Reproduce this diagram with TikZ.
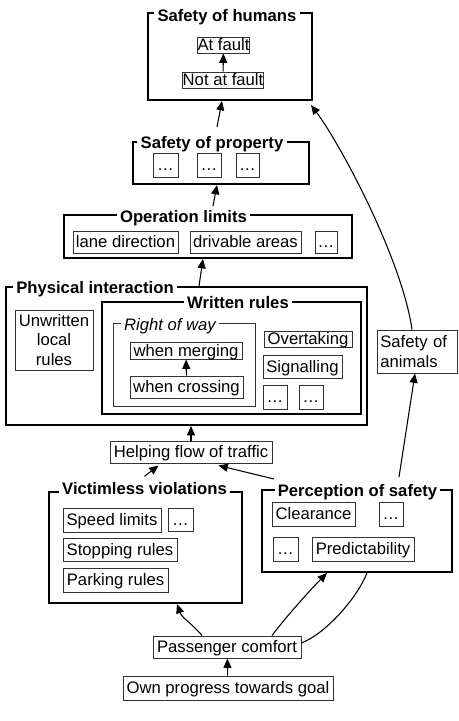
\documentclass[tikz,border=0pt]{standalone}
\usepackage{fontspec}
\setmainfont{Liberation Sans}
\usetikzlibrary{arrows.meta, positioning, calc}

\begin{document}
\begin{tikzpicture}[
  % one unit is one pixel of the sketch, y runs downwards
  x=0.75pt, y=-0.75pt, font=\fontsize{12.5}{14.5}\selectfont,
  sz/.style 2 args={minimum width=#1*0.75pt, minimum height=#2*0.75pt},
  bx/.style={draw=black!80, line width=0.75pt, inner sep=0pt, align=center},
  lbl/.style={bx, text height=9.5pt, text depth=1pt},
  frm/.style={draw, line width=1.5pt, inner sep=0pt},
  sub/.style={draw=black!80, line width=0.75pt, inner sep=0pt},
  ttl/.style={fill=white, anchor=base, inner xsep=2.5pt, inner ysep=1pt, font=\fontsize{12.5}{14.5}\selectfont\bfseries},
  ar/.style={-{Triangle[length=7pt, width=6pt]}, line width=0.8pt},
  ln/.style={line width=0.8pt},
]
\useasboundingbox (0,0) rectangle (459,721);
% safety of humans
\node[frm, sz={164}{87}] (hum) at (230,56.5) {};
\node[ttl] (humt) at (227,21.5) {Safety of humans};
\node[lbl, sz={52}{16}] (atf) at (223.5,45) {At fault};
\node[lbl, sz={79}{16}] (natf) at (223,80) {Not at fault};
\draw[ar] (natf) -- (atf);
% safety of property
\node[frm, sz={176}{42}] (prop) at (221,163) {};
\node[ttl] (propt) at (212,148) {Safety of property};
\node[lbl, sz={25}{24}] (prop1) at (165.5,165) {\dots};
\node[lbl, sz={24}{24}] (prop2) at (209,165) {\dots};
\node[lbl, sz={23}{24}] (prop3) at (247.5,165) {\dots};
% operation limits
\node[frm, sz={288}{43}] (oper) at (208,236.5) {};
\node[ttl] (opert) at (183.5,222) {Operation limits};
\node[lbl, sz={105}{22}] (lane) at (125.5,242) {lane direction};
\node[lbl, sz={111}{22}] (driv) at (245.5,242) {drivable areas};
\node[lbl, sz={22}{22}] (oper3) at (326,242) {\dots};
% physical interaction
\node[frm, sz={361}{138}] (phys) at (186.5,356) {};
\node[ttl] (physt) at (95,293) {Physical interaction};
\node[bx, sz={78}{60}] (unwr) at (54,340) {Unwritten\\local\\rules};
\node[frm, sz={259}{112}] (writ) at (231.5,358) {};
\node[ttl] (writt) at (238,308) {Written rules};
\node[sub, sz={142}{83}] (row) at (184,364.5) {};
\node[ttl, font=\fontsize{12.5}{14.5}\selectfont\itshape] (rowt) at (170,330) {Right of way};
\node[lbl, sz={112}{17}] (merg) at (186,350.5) {when merging};
\node[lbl, sz={113}{22}] (cros) at (186.5,387) {when crossing};
\draw[ar] (cros) -- (merg);
\node[lbl, sz={88}{16}] (overt) at (308,339) {Overtaking};
\node[lbl, sz={79}{23}] (sign) at (302.5,366.5) {Signalling};
\node[lbl, sz={24}{24}] (writ1) at (275,397) {\dots};
\node[lbl, sz={24}{24}] (writ2) at (311,397) {\dots};
% safety of animals
\node[bx, align=left, text width=55pt, inner xsep=2.5pt, sz={80}{43}] (anim) at (417,351.5) {Safety of\\animals};
% helping flow of traffic
\node[lbl, sz={162}{22}] (help) at (191,452) {Helping flow of traffic};
% victimless violations
\node[frm, sz={193}{111}] (vict) at (145.5,547.5) {};
\node[ttl] (victt) at (144.5,494) {Victimless violations};
\node[lbl, sz={98}{24}] (speed) at (112,520) {Speed limits};
\node[lbl, sz={25}{23}] (vict2) at (180.5,519.5) {\dots};
\node[lbl, sz={114}{23}] (stop) at (120,549.5) {Stopping rules};
\node[lbl, sz={105}{24}] (park) at (115.5,580) {Parking rules};
% perception of safety
\node[frm, sz={190}{82}] (perc) at (357,531) {};
\node[ttl] (perct) at (357.5,496) {Perception of safety};
\node[lbl, sz={83}{24}] (clear) at (313.5,514) {Clearance};
\node[lbl, sz={24}{24}] (perc2) at (391,514) {\dots};
\node[lbl, sz={25}{24}] (perc3) at (285.5,549) {\dots};
\node[lbl, sz={102}{24}] (pred) at (363,549) {Predictability};
% comfort and progress
\node[lbl, sz={148}{22}] (pass) at (227,647) {Passenger comfort};
\node[lbl, sz={210}{24}] (own) at (228,688) {Own progress towards goal};
\draw[ar] (own) -- (pass);
% links between the levels
\draw[ar] ($(prop.north)+(-4,-14)$) -- ($(hum.south)+(-8,0)$);
\draw[ar] ($(oper.north)+(5,-8)$) -- ($(prop.south)+(-4,0)$);
\draw[ar] ($(phys.north)+(12.5,0)$) -- ($(oper.south)+(-5,0)$);
\draw[ar] (help.north) -- (help.north |- phys.south);
\draw[ar] ($(victt.north)+(0,-4)$) -- ($(help.south west)+(49,2)$);
\draw[ar] ($(perc.north west)+(13,-10)$) -- ($(help.south east)+(-54,2)$);
\draw[ar] ($(perc.north)+(42,-12)$) -- ($(anim.south)+(-2,0)$);
\draw[ar] ($(anim.north)+(-5,0)$) .. controls +(-10,-70) and +(30,40) .. ($(hum.south east)+(-2,4)$);
\draw[ar] ($(pass.north)+(-25,0)$) .. controls +(-10,-12) and +(5,14) .. ($(vict.south)+(31.5,0)$);
\draw[ar] ($(pass.north)+(45,0)$) .. controls +(15,-20) and +(-14,14) .. ($(perc.south)+(-30,0)$);
\draw[ln] ($(pass.east)+(0,-4)$) .. controls +(25,-10) and +(-10,25) .. ($(perc.south)+(10,0)$);
\end{tikzpicture}
\end{document}
